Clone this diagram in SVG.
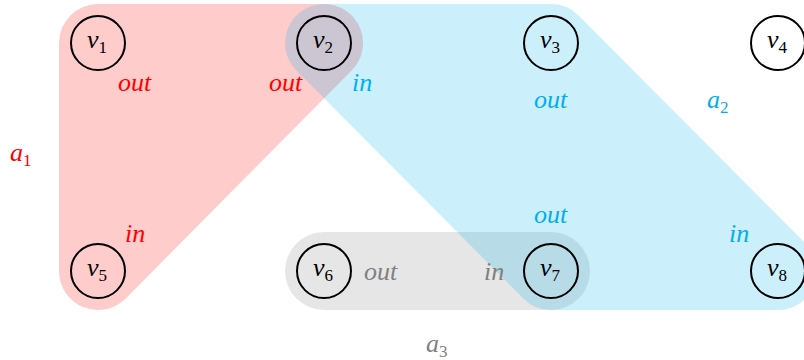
<svg xmlns="http://www.w3.org/2000/svg" width="804" height="360" viewBox="0 0 804 360">
<style>
.edge-red{fill:#ff0000;fill-opacity:0.2;stroke:none}
.edge-blue{fill:#00aeef;fill-opacity:0.2;stroke:none}
.edge-gray{fill:#808080;fill-opacity:0.2;stroke:none}
.node circle{fill:none;stroke:#000;stroke-width:2}
text{font-family:'Liberation Serif','Times New Roman',serif;font-style:italic;font-size:26px}
.vl{fill:#000;text-anchor:middle}
.sub{font-style:normal;font-size:17px}
.red{fill:#ff0000}
.blue{fill:#00aeef}
.gray{fill:#808080}
</style>
<g id="hyperedges">
  <g id="a3"><rect class="edge-gray" x="285" y="232" width="305" height="78" rx="39" ry="39"/></g>
  <g id="a1"><path class="edge-red" d="M98,4 L324,4 A39,39 0 0 1 351.7,70.5 L125.7,298.5 A39,39 0 0 1 59,271 L59,43 A39,39 0 0 1 98,4 Z"/></g>
  <g id="a2"><path class="edge-blue" d="M324,4 L551,4 A39,39 0 0 1 578.6,15.5 L805.6,243.5 A39,39 0 0 1 778,310 L551,310 A39,39 0 0 1 523.4,298.5 L296.4,70.5 A39,39 0 0 1 324,4 Z"/></g>
</g>
<g id="connectors"></g>
<g id="v1" class="node"><circle cx="98" cy="43" r="27"/><text class="vl" x="97" y="47.5">v<tspan class="sub" dy="5">1</tspan></text></g>
<g id="v2" class="node"><circle cx="324" cy="43" r="27"/><text class="vl" x="323" y="47.5">v<tspan class="sub" dy="5">2</tspan></text></g>
<g id="v3" class="node"><circle cx="551" cy="43" r="27"/><text class="vl" x="550" y="47.5">v<tspan class="sub" dy="5">3</tspan></text></g>
<g id="v4" class="node"><circle cx="778" cy="43" r="27"/><text class="vl" x="777" y="47.5">v<tspan class="sub" dy="5">4</tspan></text></g>
<g id="v5" class="node"><circle cx="98" cy="271" r="27"/><text class="vl" x="97" y="275.5">v<tspan class="sub" dy="5">5</tspan></text></g>
<g id="v6" class="node"><circle cx="324" cy="271" r="27"/><text class="vl" x="323" y="275.5">v<tspan class="sub" dy="5">6</tspan></text></g>
<g id="v7" class="node"><circle cx="551" cy="271" r="27"/><text class="vl" x="550" y="275.5">v<tspan class="sub" dy="5">7</tspan></text></g>
<g id="v8" class="node"><circle cx="778" cy="271" r="27"/><text class="vl" x="777" y="275.5">v<tspan class="sub" dy="5">8</tspan></text></g>
<g id="labels">
  <text class="red" x="118" y="90.5">out</text>
  <text class="red" x="269" y="90.5">out</text>
  <text class="red" x="125" y="242">in</text>
  <text class="red" x="10" y="161">a<tspan class="sub" dy="5">1</tspan></text>
  <text class="blue" x="352" y="90.5">in</text>
  <text class="blue" x="534" y="108">out</text>
  <text class="blue" x="707" y="108">a<tspan class="sub" dy="5">2</tspan></text>
  <text class="blue" x="534" y="223">out</text>
  <text class="blue" x="729" y="242">in</text>
  <text class="gray" x="364" y="280">out</text>
  <text class="gray" x="484" y="280">in</text>
  <text class="gray" x="426" y="352">a<tspan class="sub" dy="5">3</tspan></text>
</g>
</svg>
